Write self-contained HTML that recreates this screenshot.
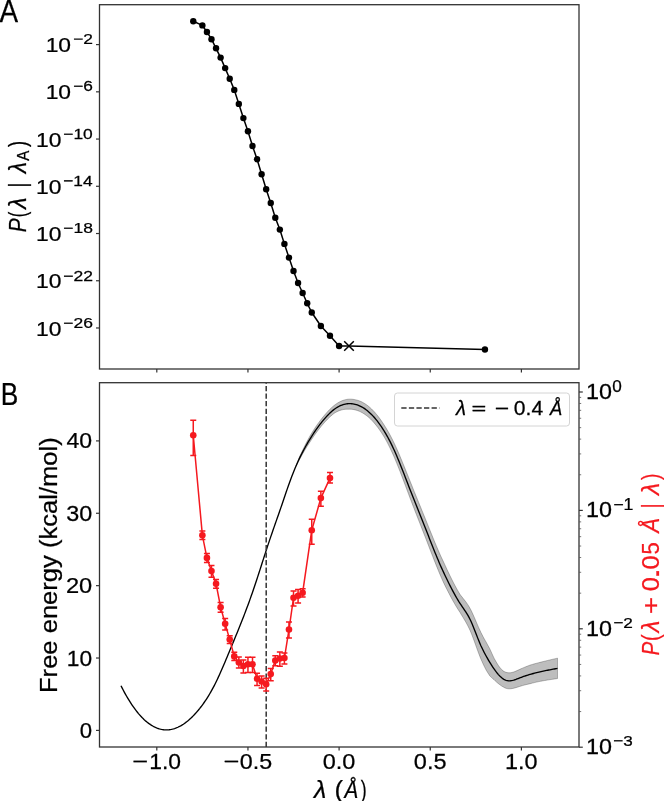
<!DOCTYPE html>
<html><head><meta charset="utf-8"><style>
html,body{margin:0;padding:0;background:#fff;overflow:hidden;}
svg{display:block;will-change:transform;} svg{font-family:"Liberation Sans", sans-serif;font-kerning:none;}
</style></head><body>
<svg width="664" height="801" viewBox="0 0 664 801">
<rect width="664" height="801" fill="#fff"/>
<text transform="translate(-0.45,21.50) scale(0.9012,1)" font-size="30.96" fill="#000" stroke="#000" stroke-width="0.25">A</text>
<text transform="translate(0.64,405.20) scale(0.8536,1)" font-size="30.81" fill="#000" stroke="#000" stroke-width="0.25">B</text>
<polyline points="193.26,21.20 202.38,25.40 206.93,32.00 211.49,39.20 216.05,48.30 220.61,57.60 225.16,68.10 229.72,78.70 234.28,89.90 238.84,103.90 243.39,118.10 247.95,131.20 252.51,146.00 257.06,159.30 261.62,174.30 266.18,189.20 270.74,203.00 275.30,217.80 279.85,229.60 284.41,243.90 288.97,257.60 293.53,271.00 298.08,283.00 302.64,293.00 307.20,303.30 311.75,312.50 320.87,326.00 329.99,335.70 339.10,346.00 349.00,346.00 484.94,349.50" fill="none" stroke="#000" stroke-width="1.5" stroke-linejoin="round"/>
<g fill="#000"><circle cx="193.26" cy="21.20" r="3.2"/><circle cx="202.38" cy="25.40" r="3.2"/><circle cx="206.93" cy="32.00" r="3.2"/><circle cx="211.49" cy="39.20" r="3.2"/><circle cx="216.05" cy="48.30" r="3.2"/><circle cx="220.61" cy="57.60" r="3.2"/><circle cx="225.16" cy="68.10" r="3.2"/><circle cx="229.72" cy="78.70" r="3.2"/><circle cx="234.28" cy="89.90" r="3.2"/><circle cx="238.84" cy="103.90" r="3.2"/><circle cx="243.39" cy="118.10" r="3.2"/><circle cx="247.95" cy="131.20" r="3.2"/><circle cx="252.51" cy="146.00" r="3.2"/><circle cx="257.06" cy="159.30" r="3.2"/><circle cx="261.62" cy="174.30" r="3.2"/><circle cx="266.18" cy="189.20" r="3.2"/><circle cx="270.74" cy="203.00" r="3.2"/><circle cx="275.30" cy="217.80" r="3.2"/><circle cx="279.85" cy="229.60" r="3.2"/><circle cx="284.41" cy="243.90" r="3.2"/><circle cx="288.97" cy="257.60" r="3.2"/><circle cx="293.53" cy="271.00" r="3.2"/><circle cx="298.08" cy="283.00" r="3.2"/><circle cx="302.64" cy="293.00" r="3.2"/><circle cx="307.20" cy="303.30" r="3.2"/><circle cx="311.75" cy="312.50" r="3.2"/><circle cx="320.87" cy="326.00" r="3.2"/><circle cx="329.99" cy="335.70" r="3.2"/><circle cx="339.10" cy="346.00" r="3.2"/><circle cx="484.94" cy="349.50" r="3.2"/></g>
<path d="M344.20,341.20 L353.80,350.80 M344.20,350.80 L353.80,341.20" stroke="#000" stroke-width="1.5"/>
<rect x="99.5" y="4.7" width="479.5" height="364.3" fill="none" stroke="#333" stroke-width="1.3"/>
<line x1="156.80" y1="369" x2="156.80" y2="372.5" stroke="#333" stroke-width="1.2"/>
<line x1="247.95" y1="369" x2="247.95" y2="372.5" stroke="#333" stroke-width="1.2"/>
<line x1="339.10" y1="369" x2="339.10" y2="372.5" stroke="#333" stroke-width="1.2"/>
<line x1="430.25" y1="369" x2="430.25" y2="372.5" stroke="#333" stroke-width="1.2"/>
<line x1="521.40" y1="369" x2="521.40" y2="372.5" stroke="#333" stroke-width="1.2"/>
<line x1="96" y1="44.60" x2="99.5" y2="44.60" stroke="#333" stroke-width="1.2"/>
<text transform="translate(73.14,44.40) scale(1.1568,1)" font-size="15.04" fill="#000" stroke="#000" stroke-width="0.25">−2</text>
<text transform="translate(45.66,52.20) scale(1.0939,1)" font-size="20.90" fill="#000" stroke="#000" stroke-width="0.25">10</text>
<line x1="96" y1="91.83" x2="99.5" y2="91.83" stroke="#333" stroke-width="1.2"/>
<text transform="translate(73.15,91.49) scale(1.1658,1)" font-size="14.83" fill="#000" stroke="#000" stroke-width="0.25">−6</text>
<text transform="translate(45.66,99.43) scale(1.0939,1)" font-size="20.90" fill="#000" stroke="#000" stroke-width="0.25">10</text>
<line x1="96" y1="139.06" x2="99.5" y2="139.06" stroke="#333" stroke-width="1.2"/>
<text transform="translate(63.24,138.72) scale(1.1742,1)" font-size="14.83" fill="#000" stroke="#000" stroke-width="0.25">−10</text>
<text transform="translate(36.06,146.66) scale(1.0939,1)" font-size="20.90" fill="#000" stroke="#000" stroke-width="0.25">10</text>
<line x1="96" y1="186.29" x2="99.5" y2="186.29" stroke="#333" stroke-width="1.2"/>
<text transform="translate(63.25,186.09) scale(1.1341,1)" font-size="15.26" fill="#000" stroke="#000" stroke-width="0.25">−14</text>
<text transform="translate(36.06,193.89) scale(1.0939,1)" font-size="20.90" fill="#000" stroke="#000" stroke-width="0.25">10</text>
<line x1="96" y1="233.52" x2="99.5" y2="233.52" stroke="#333" stroke-width="1.2"/>
<text transform="translate(63.24,233.18) scale(1.1774,1)" font-size="14.83" fill="#000" stroke="#000" stroke-width="0.25">−18</text>
<text transform="translate(36.06,241.12) scale(1.0939,1)" font-size="20.90" fill="#000" stroke="#000" stroke-width="0.25">10</text>
<line x1="96" y1="280.75" x2="99.5" y2="280.75" stroke="#333" stroke-width="1.2"/>
<text transform="translate(63.24,280.55) scale(1.1662,1)" font-size="15.04" fill="#000" stroke="#000" stroke-width="0.25">−22</text>
<text transform="translate(36.06,288.35) scale(1.0939,1)" font-size="20.90" fill="#000" stroke="#000" stroke-width="0.25">10</text>
<line x1="96" y1="327.98" x2="99.5" y2="327.98" stroke="#333" stroke-width="1.2"/>
<text transform="translate(63.24,327.64) scale(1.1778,1)" font-size="14.83" fill="#000" stroke="#000" stroke-width="0.25">−26</text>
<text transform="translate(36.06,335.58) scale(1.0939,1)" font-size="20.90" fill="#000" stroke="#000" stroke-width="0.25">10</text>
<g transform="rotate(-90)"><text transform="translate(-232.34,25.50) scale(0.8524,1)" font-size="24.40" fill="#000" stroke="#000" stroke-width="0.25" font-style="italic">P</text><text transform="translate(-217.35,25.50) scale(0.6956,1)" font-size="24.40" fill="#000" stroke="#000" stroke-width="0.25">(</text><text transform="translate(-208.94,25.50) scale(0.9561,1)" font-size="24.40" fill="#000" stroke="#000" stroke-width="0.25" font-style="italic">λ</text><text transform="translate(-187.45,25.50) scale(0.7584,1)" font-size="24.40" fill="#000" stroke="#000" stroke-width="0.25">|</text><text transform="translate(-173.18,25.50) scale(0.9223,1)" font-size="24.40" fill="#000" stroke="#000" stroke-width="0.25" font-style="italic">λ</text><text transform="translate(-160.73,28.80) scale(0.9702,1)" font-size="15.70" fill="#000" stroke="#000" stroke-width="0.25">A</text><text transform="translate(-147.01,25.50) scale(0.7574,1)" font-size="24.40" fill="#000" stroke="#000" stroke-width="0.25">)</text></g>
<path d="M296.04,465.91 297.13,462.95 298.23,460.11 299.32,457.36 300.41,454.80 301.51,452.47 302.60,450.19 303.70,447.96 304.79,445.77 305.88,443.62 306.98,441.53 308.07,439.47 309.17,437.46 310.26,435.52 311.35,433.71 312.45,431.94 313.54,430.21 314.64,428.52 315.73,426.87 316.82,425.27 317.92,423.70 319.01,422.18 320.11,420.69 321.20,419.26 322.29,417.87 323.39,416.52 324.48,415.21 325.58,413.93 326.67,412.69 327.76,411.48 328.86,410.32 329.95,409.21 331.05,408.15 332.14,407.14 333.23,406.19 334.33,405.30 335.42,404.48 336.52,403.71 337.61,403.00 338.70,402.36 339.80,401.77 340.89,401.24 341.98,400.77 343.08,400.36 344.17,400.01 345.27,399.72 346.36,399.48 347.45,399.29 348.55,399.18 349.64,399.13 350.74,399.13 351.83,399.19 352.92,399.30 354.02,399.47 355.11,399.69 356.21,399.92 357.30,400.20 358.39,400.53 359.49,400.92 360.58,401.37 361.68,401.87 362.77,402.43 363.86,403.04 364.96,403.71 366.05,404.43 367.15,405.21 368.24,406.05 369.33,406.94 370.43,407.90 371.52,408.93 372.62,410.02 373.71,411.17 374.80,412.37 375.90,413.63 376.99,414.94 378.09,416.31 379.18,417.75 380.27,419.24 381.37,420.79 382.46,422.40 383.56,424.07 384.65,425.81 385.74,427.56 386.84,429.35 387.93,431.20 389.03,433.12 390.12,435.12 391.21,437.18 392.31,439.32 393.40,441.53 394.50,443.81 395.59,446.16 396.68,448.57 397.78,451.06 398.87,453.60 399.97,456.18 401.06,458.81 402.15,461.46 403.25,464.15 404.34,466.85 405.44,469.57 406.53,472.30 407.62,475.03 408.72,477.76 409.81,480.48 410.91,483.23 412.00,485.96 413.09,488.69 414.19,491.40 415.28,494.10 416.38,496.79 417.47,499.48 418.56,502.16 419.66,504.84 420.75,507.52 421.85,510.21 422.94,512.89 424.03,515.58 425.13,518.28 426.22,520.99 427.32,523.71 428.41,526.43 429.50,529.15 430.60,531.86 431.69,534.57 432.79,537.26 433.88,539.94 434.97,542.59 436.07,545.21 437.16,547.80 438.26,550.35 439.35,552.85 440.44,555.31 441.54,557.71 442.63,560.06 443.73,562.36 444.82,564.73 445.91,567.11 447.01,569.46 448.10,571.79 449.20,574.08 450.29,576.34 451.38,578.56 452.48,580.74 453.57,582.88 454.67,584.97 455.76,587.00 456.85,588.99 457.95,590.91 459.04,592.78 460.14,594.54 461.23,595.98 462.32,597.36 463.42,598.73 464.51,600.11 465.61,601.53 466.70,603.03 467.79,604.63 468.89,606.36 469.98,608.26 471.08,610.33 472.17,612.58 473.26,614.99 474.36,617.49 475.45,620.06 476.55,622.64 477.64,625.19 478.73,627.68 479.83,630.06 480.92,632.39 482.02,634.61 483.11,636.71 484.20,638.71 485.30,640.63 486.39,642.56 487.48,644.62 488.58,646.62 489.67,648.57 490.77,650.91 491.86,653.38 492.95,655.80 494.05,658.14 495.14,660.12 496.24,662.02 497.33,663.84 498.42,665.57 499.52,667.09 500.61,668.38 501.71,669.56 502.80,670.61 503.89,671.36 504.99,671.92 506.08,672.33 507.18,672.61 508.27,672.77 509.36,672.81 510.46,672.74 511.55,672.55 512.65,672.28 513.74,671.95 514.83,671.57 515.93,671.11 517.02,670.62 518.12,670.12 519.21,669.61 520.30,669.10 521.40,668.61 522.49,668.13 523.59,667.66 524.68,667.21 525.77,666.76 526.87,666.32 527.96,665.90 529.06,665.48 530.15,665.09 531.24,664.75 532.34,664.43 533.43,664.11 534.53,663.80 535.62,663.50 536.71,663.21 537.81,662.92 538.90,662.64 540.00,662.37 541.09,662.08 542.18,661.80 543.28,661.52 544.37,661.25 545.47,660.98 546.56,660.72 547.65,660.46 548.75,660.20 549.84,659.94 550.94,659.68 552.03,659.42 553.12,659.17 554.22,658.91 555.31,658.66 556.41,658.41 557.50,658.15 L557.50,678.55 556.41,678.72 555.31,678.88 554.22,679.04 553.12,679.20 552.03,679.36 550.94,679.53 549.84,679.69 548.75,679.86 547.65,680.03 546.56,680.21 545.47,680.39 544.37,680.58 543.28,680.77 542.18,680.96 541.09,681.16 540.00,681.37 538.90,681.60 537.81,681.83 536.71,682.07 535.62,682.32 534.53,682.58 533.43,682.85 532.34,683.12 531.24,683.40 530.15,683.69 529.06,683.94 527.96,684.19 526.87,684.45 525.77,684.72 524.68,685.01 523.59,685.30 522.49,685.61 521.40,685.93 520.30,686.26 519.21,686.61 518.12,686.96 517.02,687.31 515.93,687.64 514.83,687.95 513.74,688.25 512.65,688.49 511.55,688.67 510.46,688.77 509.36,688.81 508.27,688.77 507.18,688.61 506.08,688.33 504.99,687.92 503.89,687.36 502.80,686.69 501.71,686.08 500.61,685.34 499.52,684.48 498.42,683.63 497.33,682.78 496.24,681.83 495.14,680.80 494.05,679.70 492.95,678.81 491.86,677.87 490.77,676.87 489.67,675.65 488.58,673.97 487.48,672.25 486.39,670.47 485.30,668.44 484.20,666.23 483.11,663.94 482.02,661.54 480.92,659.03 479.83,656.39 478.73,653.52 477.64,650.56 476.55,647.52 475.45,644.46 474.36,641.41 473.26,638.42 472.17,635.54 471.08,632.80 469.98,630.25 468.89,627.92 467.79,625.74 466.70,623.71 465.61,621.77 464.51,619.91 463.42,618.09 462.32,616.29 461.23,614.47 460.14,612.60 459.04,610.93 457.95,609.25 456.85,607.50 455.76,605.69 454.67,603.83 453.57,601.92 452.48,599.97 451.38,597.96 450.29,595.92 449.20,593.84 448.10,591.72 447.01,589.58 445.91,587.40 444.82,585.19 443.73,582.93 442.63,580.51 441.54,578.04 440.44,575.51 439.35,572.94 438.26,570.31 437.16,567.64 436.07,564.93 434.97,562.18 433.88,559.41 432.79,556.62 431.69,553.80 430.60,550.97 429.50,548.13 428.41,545.29 427.32,542.45 426.22,539.62 425.13,536.80 424.03,533.99 422.94,531.19 421.85,528.39 420.75,525.60 419.66,522.81 418.56,520.02 417.47,517.23 416.38,514.43 415.28,511.63 414.19,508.82 413.09,506.00 412.00,503.16 410.91,500.32 409.81,497.45 408.72,494.53 407.62,491.60 406.53,488.66 405.44,485.73 404.34,482.81 403.25,479.90 402.15,477.02 401.06,474.16 399.97,471.33 398.87,468.54 397.78,465.80 396.68,463.11 395.59,460.45 394.50,457.87 393.40,455.35 392.31,452.90 391.21,450.53 390.12,448.23 389.03,446.00 387.93,443.84 386.84,441.74 385.74,439.72 384.65,437.79 383.56,435.98 382.46,434.23 381.37,432.54 380.27,430.92 379.18,429.36 378.09,427.85 376.99,426.41 375.90,425.02 374.80,423.69 373.71,422.41 372.62,421.19 371.52,420.03 370.43,418.93 369.33,417.90 368.24,416.95 367.15,416.06 366.05,415.22 364.96,414.44 363.86,413.72 362.77,413.04 361.68,412.43 360.58,411.87 359.49,411.36 358.39,410.91 357.30,410.52 356.21,410.18 355.11,409.89 354.02,409.64 352.92,409.44 351.83,409.30 350.74,409.21 349.64,409.17 348.55,409.19 347.45,409.21 346.36,409.22 345.27,409.30 344.17,409.42 343.08,409.61 341.98,409.85 340.89,410.15 339.80,410.51 338.70,410.92 337.61,411.40 336.52,411.94 335.42,412.54 334.33,413.26 333.23,414.07 332.14,414.95 331.05,415.88 329.95,416.87 328.86,417.91 327.76,419.00 326.67,420.13 325.58,421.30 324.48,422.50 323.39,423.75 322.29,425.03 321.20,426.34 320.11,427.70 319.01,429.08 317.92,430.49 316.82,431.95 315.73,433.45 314.64,434.98 313.54,436.56 312.45,438.18 311.35,439.84 310.26,441.55 309.17,443.21 308.07,444.89 306.98,446.62 305.88,448.39 304.79,450.20 303.70,452.07 302.60,453.97 301.51,455.92 300.41,457.93 299.32,459.86 298.23,461.81 297.13,463.84 296.04,465.94 Z" fill="#bdbdbd" stroke="#000" stroke-opacity="0.25" stroke-width="1"/>
<polyline points="121.00,685.78 122.09,687.93 123.19,690.03 124.28,692.07 125.38,694.06 126.47,695.99 127.56,697.86 128.66,699.68 129.75,701.44 130.85,703.15 131.94,704.80 133.03,706.40 134.13,707.95 135.22,709.43 136.32,710.87 137.41,712.25 138.50,713.58 139.60,714.85 140.69,716.07 141.79,717.23 142.88,718.35 143.97,719.41 145.07,720.42 146.16,721.37 147.26,722.28 148.35,723.13 149.44,723.93 150.54,724.68 151.63,725.37 152.73,726.02 153.82,726.62 154.91,727.16 156.01,727.65 157.10,728.10 158.20,728.49 159.29,728.83 160.38,729.13 161.48,729.37 162.57,729.57 163.67,729.72 164.76,729.81 165.85,729.86 166.95,729.86 168.04,729.81 169.14,729.72 170.23,729.57 171.32,729.38 172.42,729.15 173.51,728.86 174.61,728.53 175.70,728.15 176.79,727.72 177.89,727.25 178.98,726.73 180.08,726.17 181.17,725.56 182.26,724.90 183.36,724.20 184.45,723.45 185.55,722.66 186.64,721.83 187.73,720.95 188.83,720.02 189.92,719.05 191.02,718.04 192.11,716.98 193.20,715.88 194.30,714.74 195.39,713.56 196.48,712.33 197.58,711.06 198.67,709.74 199.77,708.39 200.86,706.99 201.95,705.54 203.05,704.05 204.14,702.51 205.24,700.92 206.33,699.28 207.42,697.58 208.52,695.82 209.61,694.01 210.71,692.13 211.80,690.19 212.89,688.19 213.99,686.11 215.08,683.97 216.18,681.76 217.27,679.49 218.36,677.15 219.46,674.75 220.55,672.31 221.65,669.83 222.74,667.30 223.83,664.74 224.93,662.16 226.02,659.56 227.12,656.93 228.21,654.30 229.30,651.67 230.40,649.03 231.49,646.40 232.59,643.76 233.68,641.12 234.77,638.47 235.87,635.81 236.96,633.14 238.06,630.46 239.15,627.75 240.24,625.03 241.34,622.28 242.43,619.51 243.53,616.70 244.62,613.87 245.71,611.00 246.81,608.10 247.90,605.16 249.00,602.17 250.09,599.14 251.18,596.07 252.28,592.94 253.37,589.76 254.47,586.53 255.56,583.26 256.65,579.95 257.75,576.61 258.84,573.24 259.94,569.85 261.03,566.45 262.12,563.04 263.22,559.64 264.31,556.24 265.41,552.86 266.50,549.50 267.59,546.16 268.69,542.86 269.78,539.59 270.88,536.37 271.97,533.18 273.06,530.03 274.16,526.89 275.25,523.77 276.35,520.65 277.44,517.53 278.53,514.41 279.63,511.27 280.72,508.11 281.82,504.92 282.91,501.70 284.00,498.44 285.10,495.22 286.19,492.03 287.29,488.89 288.38,485.79 289.47,482.76 290.57,479.78 291.66,476.86 292.76,474.01 293.85,471.24 294.94,468.54 296.04,465.93 297.13,463.40 298.23,460.96 299.32,458.61 300.41,456.37 301.51,454.20 302.60,452.08 303.70,450.01 304.79,447.99 305.88,446.01 306.98,444.07 308.07,442.18 309.17,440.34 310.26,438.53 311.35,436.78 312.45,435.06 313.54,433.38 314.64,431.75 315.73,430.16 316.82,428.61 317.92,427.10 319.01,425.63 320.11,424.20 321.20,422.80 322.29,421.45 323.39,420.13 324.48,418.85 325.58,417.61 326.67,416.41 327.76,415.24 328.86,414.12 329.95,413.04 331.05,412.02 332.14,411.05 333.23,410.13 334.33,409.28 335.42,408.49 336.52,407.77 337.61,407.10 338.70,406.50 339.80,405.95 340.89,405.47 341.98,405.04 343.08,404.68 344.17,404.36 345.27,404.11 346.36,403.91 347.45,403.77 348.55,403.68 349.64,403.65 350.74,403.67 351.83,403.74 352.92,403.87 354.02,404.06 355.11,404.30 356.21,404.59 357.30,404.93 358.39,405.34 359.49,405.79 360.58,406.31 361.68,406.87 362.77,407.50 363.86,408.17 364.96,408.91 366.05,409.70 367.15,410.54 368.24,411.44 369.33,412.40 370.43,413.41 371.52,414.48 372.62,415.61 373.71,416.79 374.80,418.03 375.90,419.32 376.99,420.68 378.09,422.08 379.18,423.55 380.27,425.08 381.37,426.66 382.46,428.31 383.56,430.02 384.65,431.80 385.74,433.64 386.84,435.54 387.93,437.52 389.03,439.56 390.12,441.67 391.21,443.85 392.31,446.11 393.40,448.44 394.50,450.84 395.59,453.31 396.68,455.84 397.78,458.43 398.87,461.07 399.97,463.76 401.06,466.48 402.15,469.24 403.25,472.02 404.34,474.83 405.44,477.65 406.53,480.48 407.62,483.31 408.72,486.15 409.81,488.97 410.91,491.77 412.00,494.56 413.09,497.34 414.19,500.11 415.28,502.86 416.38,505.61 417.47,508.35 418.56,511.09 419.66,513.83 420.75,516.56 421.85,519.30 422.94,522.04 424.03,524.79 425.13,527.54 426.22,530.30 427.32,533.08 428.41,535.86 429.50,538.64 430.60,541.42 431.69,544.19 432.79,546.94 433.88,549.67 434.97,552.39 436.07,555.07 437.16,557.72 438.26,560.33 439.35,562.89 440.44,565.41 441.54,567.87 442.63,570.28 443.73,572.64 444.82,574.96 445.91,577.25 447.01,579.52 448.10,581.76 449.20,583.96 450.29,586.13 451.38,588.26 452.48,590.36 453.57,592.40 454.67,594.40 455.76,596.35 456.85,598.24 457.95,600.08 459.04,601.86 460.14,603.57 461.23,605.22 462.32,606.82 463.42,608.41 464.51,610.01 465.61,611.65 466.70,613.37 467.79,615.19 468.89,617.14 469.98,619.25 471.08,621.56 472.17,624.06 473.26,626.70 474.36,629.45 475.45,632.26 476.55,635.08 477.64,637.88 478.73,640.60 479.83,643.22 480.92,645.71 482.02,648.07 483.11,650.32 484.20,652.47 485.30,654.53 486.39,656.52 487.48,658.43 488.58,660.29 489.67,662.11 490.77,663.89 491.86,665.62 492.95,667.30 494.05,668.92 495.14,670.46 496.24,671.93 497.33,673.31 498.42,674.60 499.52,675.78 500.61,676.86 501.71,677.82 502.80,678.65 503.89,679.36 504.99,679.92 506.08,680.33 507.18,680.61 508.27,680.77 509.36,680.81 510.46,680.76 511.55,680.61 512.65,680.39 513.74,680.10 514.83,679.76 515.93,679.38 517.02,678.97 518.12,678.54 519.21,678.11 520.30,677.68 521.40,677.27 522.49,676.87 523.59,676.48 524.68,676.11 525.77,675.74 526.87,675.39 527.96,675.05 529.06,674.71 530.15,674.39 531.24,674.08 532.34,673.77 533.43,673.48 534.53,673.19 535.62,672.91 536.71,672.64 537.81,672.38 538.90,672.12 540.00,671.87 541.09,671.62 542.18,671.38 543.28,671.14 544.37,670.91 545.47,670.69 546.56,670.46 547.65,670.24 548.75,670.03 549.84,669.81 550.94,669.60 552.03,669.39 553.12,669.18 554.22,668.98 555.31,668.77 556.41,668.56 557.50,668.35" fill="none" stroke="#000" stroke-width="1.35" stroke-linejoin="round"/>
<line x1="266.2" y1="747" x2="266.2" y2="382.7" stroke="#333" stroke-width="1.5" stroke-dasharray="5.28 2.29"/>
<g stroke="#f5191f" stroke-width="1.5" fill="none">
<polyline points="193.26,435.30 202.38,535.30 206.93,557.90 211.49,571.10 216.05,583.80 220.61,607.20 225.16,623.80 229.72,639.60 234.28,656.40 238.84,662.50 243.39,666.00 247.95,664.30 252.51,664.30 257.06,678.80 261.62,681.50 266.18,684.20 270.74,674.10 275.30,660.60 279.85,658.50 284.41,658.00 288.97,629.60 293.53,597.70 298.08,595.70 302.64,592.70 311.75,530.20 320.87,498.10 329.99,478.10"/>
<path d="M193.26,420.30 V455.50 M190.26,420.30 H196.26 M190.26,455.50 H196.26"/>
<path d="M202.38,531.00 V539.40 M199.38,531.00 H205.38 M199.38,539.40 H205.38"/>
<path d="M206.93,553.60 V562.40 M203.93,553.60 H209.93 M203.93,562.40 H209.93"/>
<path d="M211.49,565.40 V577.20 M208.49,565.40 H214.49 M208.49,577.20 H214.49"/>
<path d="M216.05,579.40 V588.20 M213.05,579.40 H219.05 M213.05,588.20 H219.05"/>
<path d="M220.61,602.50 V612.20 M217.61,602.50 H223.61 M217.61,612.20 H223.61"/>
<path d="M225.16,618.40 V629.90 M222.16,618.40 H228.16 M222.16,629.90 H228.16"/>
<path d="M229.72,635.70 V643.60 M226.72,635.70 H232.72 M226.72,643.60 H232.72"/>
<path d="M234.28,652.30 V660.50 M231.28,652.30 H237.28 M231.28,660.50 H237.28"/>
<path d="M238.84,657.00 V668.00 M235.84,657.00 H241.84 M235.84,668.00 H241.84"/>
<path d="M243.39,660.00 V673.00 M240.39,660.00 H246.39 M240.39,673.00 H246.39"/>
<path d="M247.95,657.30 V672.40 M244.95,657.30 H250.95 M244.95,672.40 H250.95"/>
<path d="M252.51,657.30 V672.40 M249.51,657.30 H255.51 M249.51,672.40 H255.51"/>
<path d="M257.06,673.30 V685.40 M254.06,673.30 H260.06 M254.06,685.40 H260.06"/>
<path d="M261.62,676.00 V688.00 M258.62,676.00 H264.62 M258.62,688.00 H264.62"/>
<path d="M266.18,678.20 V690.90 M263.18,678.20 H269.18 M263.18,690.90 H269.18"/>
<path d="M270.74,668.50 V680.80 M267.74,668.50 H273.74 M267.74,680.80 H273.74"/>
<path d="M275.30,655.70 V665.80 M272.30,655.70 H278.30 M272.30,665.80 H278.30"/>
<path d="M279.85,652.00 V666.20 M276.85,652.00 H282.85 M276.85,666.20 H282.85"/>
<path d="M284.41,653.10 V664.00 M281.41,653.10 H287.41 M281.41,664.00 H287.41"/>
<path d="M288.97,622.10 V638.10 M285.97,622.10 H291.97 M285.97,638.10 H291.97"/>
<path d="M293.53,590.90 V605.90 M290.53,590.90 H296.53 M290.53,605.90 H296.53"/>
<path d="M298.08,589.40 V602.90 M295.08,589.40 H301.08 M295.08,602.90 H301.08"/>
<path d="M302.64,588.70 V596.90 M299.64,588.70 H305.64 M299.64,596.90 H305.64"/>
<path d="M311.75,519.30 V544.30 M308.75,519.30 H314.75 M308.75,544.30 H314.75"/>
<path d="M320.87,491.20 V506.20 M317.87,491.20 H323.87 M317.87,506.20 H323.87"/>
<path d="M329.99,472.50 V483.10 M326.99,472.50 H332.99 M326.99,483.10 H332.99"/>
</g>
<g fill="#f5191f"><circle cx="193.26" cy="435.30" r="3.3"/><circle cx="202.38" cy="535.30" r="3.3"/><circle cx="206.93" cy="557.90" r="3.3"/><circle cx="211.49" cy="571.10" r="3.3"/><circle cx="216.05" cy="583.80" r="3.3"/><circle cx="220.61" cy="607.20" r="3.3"/><circle cx="225.16" cy="623.80" r="3.3"/><circle cx="229.72" cy="639.60" r="3.3"/><circle cx="234.28" cy="656.40" r="3.3"/><circle cx="238.84" cy="662.50" r="3.3"/><circle cx="243.39" cy="666.00" r="3.3"/><circle cx="247.95" cy="664.30" r="3.3"/><circle cx="252.51" cy="664.30" r="3.3"/><circle cx="257.06" cy="678.80" r="3.3"/><circle cx="261.62" cy="681.50" r="3.3"/><circle cx="266.18" cy="684.20" r="3.3"/><circle cx="270.74" cy="674.10" r="3.3"/><circle cx="275.30" cy="660.60" r="3.3"/><circle cx="279.85" cy="658.50" r="3.3"/><circle cx="284.41" cy="658.00" r="3.3"/><circle cx="288.97" cy="629.60" r="3.3"/><circle cx="293.53" cy="597.70" r="3.3"/><circle cx="298.08" cy="595.70" r="3.3"/><circle cx="302.64" cy="592.70" r="3.3"/><circle cx="311.75" cy="530.20" r="3.3"/><circle cx="320.87" cy="498.10" r="3.3"/><circle cx="329.99" cy="478.10" r="3.3"/></g>
<rect x="394.5" y="393" width="175" height="33" rx="3" ry="3" fill="#fff" fill-opacity="0.8" stroke="#d4d4d4" stroke-width="1"/>
<line x1="401.3" y1="407.9" x2="439.5" y2="407.9" stroke="#333" stroke-width="1.5" stroke-dasharray="5.28 2.29"/>
<text transform="translate(455.93,414.70) scale(1.0323,1)" font-size="19.80" fill="#000" stroke="#000" stroke-width="0.25" font-style="italic">λ</text>
<text transform="translate(471.46,414.27) scale(1.4834,1)" font-size="17.07" fill="#000" stroke="#000" stroke-width="0.25">=</text>
<text transform="translate(494.68,415.23) scale(1.2577,1)" font-size="19.64" fill="#000" stroke="#000" stroke-width="0.25">−</text>
<text transform="translate(513.78,414.60) scale(1.0378,1)" font-size="20.34" fill="#000" stroke="#000" stroke-width="0.25">0.4</text>
<text transform="translate(550.11,414.80) scale(0.9128,1)" font-size="20.17" fill="#000" stroke="#000" stroke-width="0.25" font-style="italic">Å</text>
<rect x="99.5" y="382.7" width="479.5" height="364.3" fill="none" stroke="#333" stroke-width="1.3"/>
<line x1="156.80" y1="747" x2="156.80" y2="750.5" stroke="#333" stroke-width="1.2"/>
<line x1="247.95" y1="747" x2="247.95" y2="750.5" stroke="#333" stroke-width="1.2"/>
<line x1="339.10" y1="747" x2="339.10" y2="750.5" stroke="#333" stroke-width="1.2"/>
<line x1="430.25" y1="747" x2="430.25" y2="750.5" stroke="#333" stroke-width="1.2"/>
<line x1="521.40" y1="747" x2="521.40" y2="750.5" stroke="#333" stroke-width="1.2"/>
<text transform="translate(132.26,768.43) scale(1.3835,1)" font-size="19.64" fill="#000" stroke="#000" stroke-width="0.25">−</text><text transform="translate(149.16,769.38) scale(1.0395,1)" font-size="22.03" fill="#000" stroke="#000" stroke-width="0.25">1.0</text>
<text transform="translate(223.41,768.43) scale(1.3835,1)" font-size="19.64" fill="#000" stroke="#000" stroke-width="0.25">−</text><text transform="translate(239.84,769.38) scale(1.0574,1)" font-size="22.03" fill="#000" stroke="#000" stroke-width="0.25">0.5</text>
<text transform="translate(322.68,769.38) scale(1.0654,1)" font-size="22.03" fill="#000" stroke="#000" stroke-width="0.25">0.0</text>
<text transform="translate(413.83,769.38) scale(1.0678,1)" font-size="22.03" fill="#000" stroke="#000" stroke-width="0.25">0.5</text>
<text transform="translate(505.01,769.38) scale(1.0644,1)" font-size="22.03" fill="#000" stroke="#000" stroke-width="0.25">1.0</text>
<line x1="96" y1="730.40" x2="99.5" y2="730.40" stroke="#333" stroke-width="1.2"/>
<text transform="translate(79.83,737.89) scale(1.0329,1)" font-size="21.47" fill="#000" stroke="#000" stroke-width="0.25">0</text>
<line x1="96" y1="658.02" x2="99.5" y2="658.02" stroke="#333" stroke-width="1.2"/>
<text transform="translate(66.87,665.52) scale(1.0605,1)" font-size="21.47" fill="#000" stroke="#000" stroke-width="0.25">10</text>
<line x1="96" y1="585.65" x2="99.5" y2="585.65" stroke="#333" stroke-width="1.2"/>
<text transform="translate(65.91,593.14) scale(1.1019,1)" font-size="21.47" fill="#000" stroke="#000" stroke-width="0.25">20</text>
<line x1="96" y1="513.27" x2="99.5" y2="513.27" stroke="#333" stroke-width="1.2"/>
<text transform="translate(66.21,520.77) scale(1.0889,1)" font-size="21.47" fill="#000" stroke="#000" stroke-width="0.25">30</text>
<line x1="96" y1="440.90" x2="99.5" y2="440.90" stroke="#333" stroke-width="1.2"/>
<text transform="translate(66.57,448.39) scale(1.0732,1)" font-size="21.47" fill="#000" stroke="#000" stroke-width="0.25">40</text>
<line x1="579" y1="392.00" x2="582.8" y2="392.00" stroke="#333" stroke-width="1.2"/>
<line x1="579" y1="510.40" x2="582.8" y2="510.40" stroke="#333" stroke-width="1.2"/>
<line x1="579" y1="628.80" x2="582.8" y2="628.80" stroke="#333" stroke-width="1.2"/>
<line x1="579" y1="747.20" x2="582.8" y2="747.20" stroke="#333" stroke-width="1.2"/>
<line x1="579" y1="474.76" x2="581.2" y2="474.76" stroke="#555" stroke-width="0.8"/>
<line x1="579" y1="453.91" x2="581.2" y2="453.91" stroke="#555" stroke-width="0.8"/>
<line x1="579" y1="439.12" x2="581.2" y2="439.12" stroke="#555" stroke-width="0.8"/>
<line x1="579" y1="427.64" x2="581.2" y2="427.64" stroke="#555" stroke-width="0.8"/>
<line x1="579" y1="418.27" x2="581.2" y2="418.27" stroke="#555" stroke-width="0.8"/>
<line x1="579" y1="410.34" x2="581.2" y2="410.34" stroke="#555" stroke-width="0.8"/>
<line x1="579" y1="403.47" x2="581.2" y2="403.47" stroke="#555" stroke-width="0.8"/>
<line x1="579" y1="397.42" x2="581.2" y2="397.42" stroke="#555" stroke-width="0.8"/>
<line x1="579" y1="593.16" x2="581.2" y2="593.16" stroke="#555" stroke-width="0.8"/>
<line x1="579" y1="572.31" x2="581.2" y2="572.31" stroke="#555" stroke-width="0.8"/>
<line x1="579" y1="557.52" x2="581.2" y2="557.52" stroke="#555" stroke-width="0.8"/>
<line x1="579" y1="546.04" x2="581.2" y2="546.04" stroke="#555" stroke-width="0.8"/>
<line x1="579" y1="536.67" x2="581.2" y2="536.67" stroke="#555" stroke-width="0.8"/>
<line x1="579" y1="528.74" x2="581.2" y2="528.74" stroke="#555" stroke-width="0.8"/>
<line x1="579" y1="521.87" x2="581.2" y2="521.87" stroke="#555" stroke-width="0.8"/>
<line x1="579" y1="515.82" x2="581.2" y2="515.82" stroke="#555" stroke-width="0.8"/>
<line x1="579" y1="711.56" x2="581.2" y2="711.56" stroke="#555" stroke-width="0.8"/>
<line x1="579" y1="690.71" x2="581.2" y2="690.71" stroke="#555" stroke-width="0.8"/>
<line x1="579" y1="675.92" x2="581.2" y2="675.92" stroke="#555" stroke-width="0.8"/>
<line x1="579" y1="664.44" x2="581.2" y2="664.44" stroke="#555" stroke-width="0.8"/>
<line x1="579" y1="655.07" x2="581.2" y2="655.07" stroke="#555" stroke-width="0.8"/>
<line x1="579" y1="647.14" x2="581.2" y2="647.14" stroke="#555" stroke-width="0.8"/>
<line x1="579" y1="640.27" x2="581.2" y2="640.27" stroke="#555" stroke-width="0.8"/>
<line x1="579" y1="634.22" x2="581.2" y2="634.22" stroke="#555" stroke-width="0.8"/>
<text transform="translate(586.12,399.09) scale(1.0744,1)" font-size="21.75" fill="#000" stroke="#000" stroke-width="0.25">10</text>
<text transform="translate(612.33,391.65) scale(1.0941,1)" font-size="15.68" fill="#000" stroke="#000" stroke-width="0.25">0</text>
<text transform="translate(586.12,517.49) scale(1.0744,1)" font-size="21.75" fill="#000" stroke="#000" stroke-width="0.25">10</text>
<text transform="translate(613.22,509.80) scale(1.1310,1)" font-size="15.70" fill="#000" stroke="#000" stroke-width="0.25">−1</text>
<text transform="translate(586.12,635.89) scale(1.0744,1)" font-size="21.75" fill="#000" stroke="#000" stroke-width="0.25">10</text>
<text transform="translate(613.25,628.20) scale(1.1122,1)" font-size="15.47" fill="#000" stroke="#000" stroke-width="0.25">−2</text>
<text transform="translate(586.12,754.29) scale(1.0744,1)" font-size="21.75" fill="#000" stroke="#000" stroke-width="0.25">10</text>
<text transform="translate(613.26,746.45) scale(1.1209,1)" font-size="15.25" fill="#000" stroke="#000" stroke-width="0.25">−3</text>
<g transform="rotate(-90)"><text transform="translate(-693.00,57.40) scale(1.0484,1)" font-size="24.40" fill="#000" stroke="#000" stroke-width="0.25">Free energy (kcal/mol)</text></g>
<g transform="rotate(-90)"><text transform="translate(-655.32,658.50) scale(0.8263,1)" font-size="24.40" fill="#f5191f" stroke="#f5191f" stroke-width="0.25" font-style="italic">P</text><text transform="translate(-641.02,658.50) scale(0.8038,1)" font-size="24.40" fill="#f5191f" stroke="#f5191f" stroke-width="0.25">(</text><text transform="translate(-632.59,658.50) scale(0.9984,1)" font-size="24.40" fill="#f5191f" stroke="#f5191f" stroke-width="0.25" font-style="italic">λ</text><text transform="translate(-614.37,658.50) scale(1.2316,1)" font-size="24.40" fill="#f5191f" stroke="#f5191f" stroke-width="0.25">+</text><text transform="translate(-591.30,658.50) scale(1.0460,1)" font-size="24.40" fill="#f5191f" stroke="#f5191f" stroke-width="0.25">0</text><text transform="translate(-579.72,658.50) scale(1.8939,1)" font-size="24.40" fill="#f5191f" stroke="#f5191f" stroke-width="0.25">.</text><text transform="translate(-569.51,658.50) scale(1.0545,1)" font-size="24.40" fill="#f5191f" stroke="#f5191f" stroke-width="0.25">0</text><text transform="translate(-554.49,658.50) scale(0.9076,1)" font-size="24.40" fill="#f5191f" stroke="#f5191f" stroke-width="0.25">5</text><text transform="translate(-532.80,658.50) scale(0.9154,1)" font-size="24.40" fill="#f5191f" stroke="#f5191f" stroke-width="0.25" font-style="italic">Å</text><text transform="translate(-508.56,658.50) scale(0.8090,1)" font-size="24.40" fill="#f5191f" stroke="#f5191f" stroke-width="0.25">|</text><text transform="translate(-494.88,658.50) scale(1.0153,1)" font-size="24.40" fill="#f5191f" stroke="#f5191f" stroke-width="0.25" font-style="italic">λ</text><text transform="translate(-480.01,658.50) scale(0.7883,1)" font-size="24.40" fill="#f5191f" stroke="#f5191f" stroke-width="0.25">)</text></g>
<text transform="translate(314.03,797.60) scale(1.0585,1)" font-size="23.60" fill="#000" stroke="#000" stroke-width="0.25" font-style="italic">λ</text>
<text transform="translate(334.49,797.60) scale(1.0666,1)" font-size="24.40" fill="#000" stroke="#000" stroke-width="0.25">(</text>
<text transform="translate(344.52,797.60) scale(0.8615,1)" font-size="24.00" fill="#000" stroke="#000" stroke-width="0.25" font-style="italic">Å</text>
<text transform="translate(360.80,797.60) scale(0.7265,1)" font-size="24.40" fill="#000" stroke="#000" stroke-width="0.25">)</text>
</svg>
</body></html>
